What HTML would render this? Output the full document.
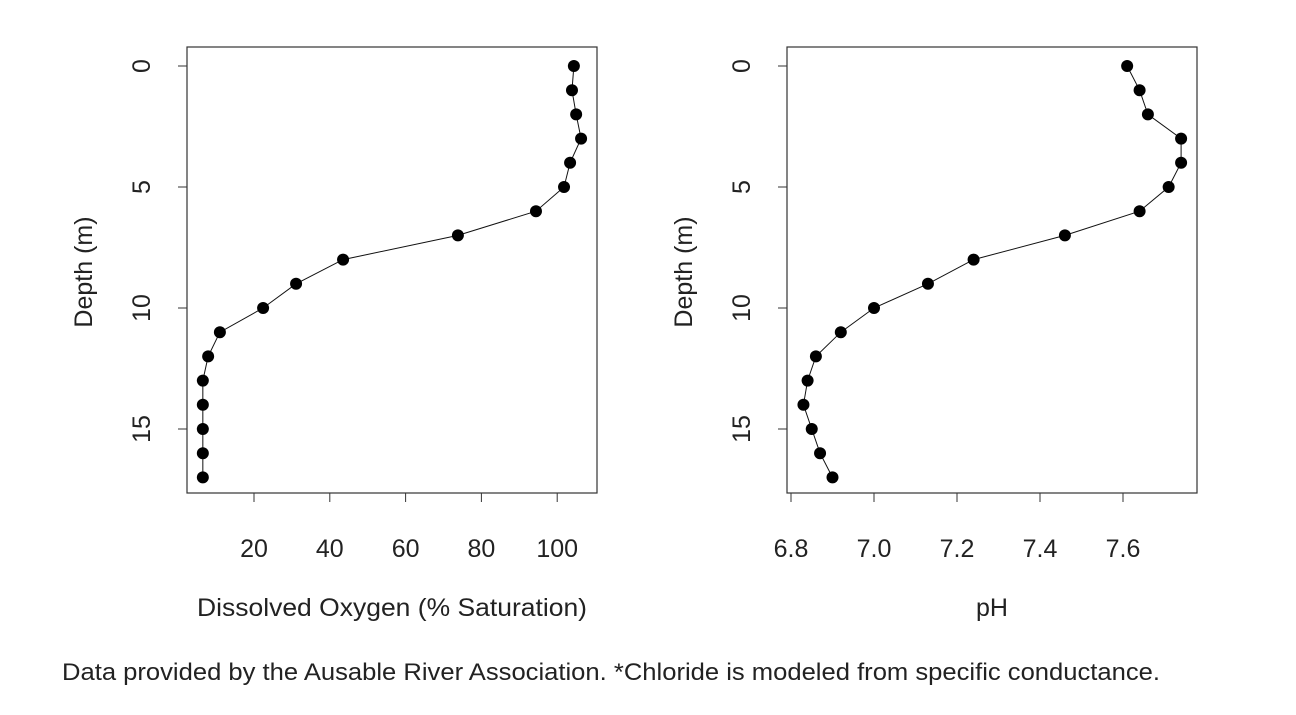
<!DOCTYPE html>
<html><head><meta charset="utf-8"><style>
html,body{margin:0;padding:0;background:#fff}
svg text{font-family:"Liberation Sans",Arial,sans-serif;fill:#222}
</style></head><body>
<svg id="chart" width="1296" height="710" xmlns="http://www.w3.org/2000/svg">
<text x="62" y="680" font-size="24" textLength="1098" lengthAdjust="spacingAndGlyphs">Data provided by the Ausable River Association. *Chloride is modeled from specific conductance.</text>
</svg>
<script>
const depths=[0,1,2,3,4,5,6,7,8,9,10,11,12,13,14,15,16,17];
const doValues=[104.4,103.9,105,106.3,103.4,101.8,94.4,73.8,43.5,31.1,22.4,11,7.9,6.5,6.5,6.5,6.5,6.5];
const phValues=[7.61,7.64,7.66,7.74,7.74,7.71,7.64,7.46,7.24,7.13,7.0,6.92,6.86,6.84,6.83,6.85,6.87,6.90];
const yTicks=[0,5,10,15];
const doTicks=[20,40,60,80,100];
const phTicks=[6.8,7.0,7.2,7.4,7.6];
const phTickLabels=["6.8","7.0","7.2","7.4","7.6"];

const svg=document.getElementById('chart');
const NS='http://www.w3.org/2000/svg';
function mk(tag,attrs,parent){const e=document.createElementNS(NS,tag);for(const k in attrs)e.setAttribute(k,attrs[k]);(parent||svg).appendChild(e);return e;}
const yScale=d=>66+d*24.2;

function panel(name,left,xs,xTicks,xLabels,values,xTitle,titleLen){
  const g=mk('g',{});
  
  
  const frame=mk('rect',{x:left,y:47,width:410,height:446,fill:'none',stroke:'#333','stroke-width':1.2},g);
  
  
  yTicks.forEach(t=>{
    const y=yScale(t);
    const tk=mk('line',{x1:left,x2:left-9,y1:y,y2:y,stroke:'#333'},g);
    
    
    const tx=mk('text',{x:0,y:0,'font-size':25,'text-anchor':'middle',transform:`translate(${left-37},${y}) rotate(-90)`},g);
    
    
    tx.textContent=t;
  });
  mk('line',{x1:left,x2:left,y1:yScale(0),y2:yScale(15),stroke:'#333'},g);
  xTicks.forEach((t,i)=>{
    const x=xs(t);
    const tk=mk('line',{x1:x,x2:x,y1:493,y2:502,stroke:'#333'},g);
    
    
    const tx=mk('text',{x:x,y:557,'font-size':25,'text-anchor':'middle'},g);
    
    
    tx.textContent=xLabels[i];
  });
  const yt=mk('text',{x:0,y:0,'font-size':25,'text-anchor':'middle',transform:`translate(${left-95},272) rotate(-90)`},g);
  
  
  yt.textContent='Depth (m)';
  const xtAttrs={x:left+205,y:616,'font-size':25,'text-anchor':'middle'};
  if(titleLen){xtAttrs.textLength=titleLen;xtAttrs.lengthAdjust='spacingAndGlyphs';}
  const xt=mk('text',xtAttrs,g);
  
  
  xt.textContent=xTitle;
  const pts=values.map((v,i)=>xs(v)+','+yScale(depths[i])).join(' ');
  const line=mk('polyline',{points:pts,fill:'none',stroke:'#111','stroke-width':1},g);
  
  
  values.forEach((v,i)=>{
    const c=mk('circle',{cx:xs(v),cy:yScale(depths[i]),r:6,fill:'#000'},g);
    
    
  });
}
panel('dissolved-oxygen-panel',187,v=>254+(v-20)*3.79,doTicks,doTicks.map(String),doValues,'Dissolved Oxygen (% Saturation)',390);
panel('ph-panel',787,v=>791+(v-6.8)*415,phTicks,phTickLabels,phValues,'pH',0);
</script>
</body></html>
